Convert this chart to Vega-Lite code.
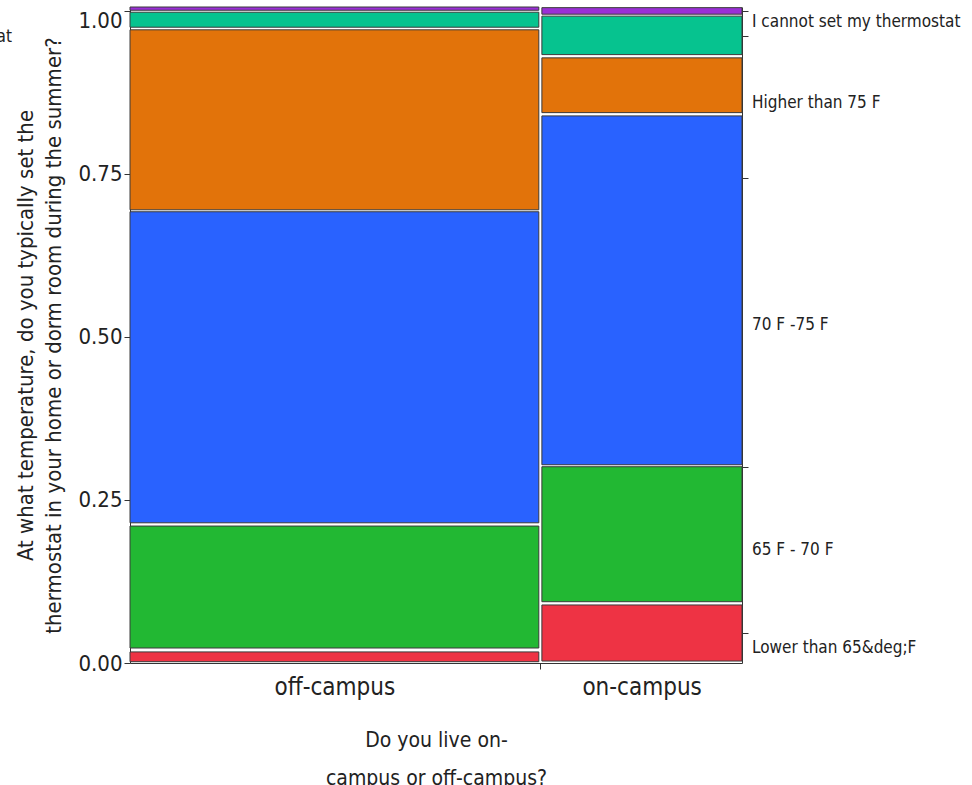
{
  "$schema": "https://vega.github.io/schema/vega-lite/v6.json",
  "width": 612,
  "height": 656,
  "autosize": "none",
  "padding": {"left": 130, "top": 7, "right": 230, "bottom": 122},
  "background": "white",
  "config": {
    "view": {"stroke": null},
    "font": "DejaVu Sans Condensed, Liberation Sans Narrow, sans-serif"
  },
  "layer": [
    {
      "data": {
        "values": [
          {"live": "off-campus", "temp": "Lower than 65&deg;F", "x0": 0, "x1": 0.668, "y0": 0.002, "y1": 0.017},
          {"live": "off-campus", "temp": "65 F - 70 F", "x0": 0, "x1": 0.668, "y0": 0.023, "y1": 0.210},
          {"live": "off-campus", "temp": "70 F -75 F", "x0": 0, "x1": 0.668, "y0": 0.215, "y1": 0.692},
          {"live": "off-campus", "temp": "Higher than 75 F", "x0": 0, "x1": 0.668, "y0": 0.695, "y1": 0.971},
          {"live": "off-campus", "temp": "I cannot set my thermostat", "x0": 0, "x1": 0.668, "y0": 0.975, "y1": 0.998},
          {"live": "off-campus", "temp": "Other", "x0": 0, "x1": 0.668, "y0": 1.001, "y1": 1.006},
          {"live": "on-campus", "temp": "Lower than 65&deg;F", "x0": 0.673, "x1": 1, "y0": 0.003, "y1": 0.089},
          {"live": "on-campus", "temp": "65 F - 70 F", "x0": 0.673, "x1": 1, "y0": 0.094, "y1": 0.301},
          {"live": "on-campus", "temp": "70 F -75 F", "x0": 0.673, "x1": 1, "y0": 0.304, "y1": 0.839},
          {"live": "on-campus", "temp": "Higher than 75 F", "x0": 0.673, "x1": 1, "y0": 0.844, "y1": 0.928},
          {"live": "on-campus", "temp": "I cannot set my thermostat", "x0": 0.673, "x1": 1, "y0": 0.933, "y1": 0.992},
          {"live": "on-campus", "temp": "Other", "x0": 0.673, "x1": 1, "y0": 0.995, "y1": 1.005}
        ]
      },
      "mark": {"type": "rect", "stroke": "#3a3a3a", "strokeWidth": 1},
      "encoding": {
        "x": {
          "field": "x0", "type": "quantitative",
          "scale": {"domain": [0, 1], "nice": false, "zero": false},
          "axis": {
            "values": [0.334, 0.67, 0.836],
            "labelExpr": "datum.value < 0.5 ? 'off-campus' : (datum.value > 0.8 ? 'on-campus' : '')",
            "grid": false,
            "domainColor": "#333",
            "tickColor": {"condition": {"test": "datum.value > 0.6 && datum.value < 0.7", "value": "#333"}, "value": "transparent"},
            "tickSize": 6,
            "labelFontSize": 24,
            "labelColor": "#222",
            "labelPadding": 6,
            "title": ["Do you live on-", "campus or off-campus?"],
            "titleFontSize": 21,
            "titleFontWeight": "normal",
            "titleColor": "#222",
            "titleLineHeight": 38,
            "titlePadding": 30
          }
        },
        "x2": {"field": "x1"},
        "y": {
          "field": "y0", "type": "quantitative",
          "scale": {"domain": [0, 1.006], "nice": false, "zero": false},
          "axis": {
            "values": [0, 0.25, 0.5, 0.75, 1],
            "format": ".2f",
            "grid": false,
            "domainColor": "#333",
            "tickColor": "#333",
            "tickSize": 6,
            "labelFontSize": 22,
            "labelColor": "#222",
            "labelPadding": 2,
            "labelBaseline": {"condition": {"test": "datum.value > 0.9", "value": "top"}, "value": "middle"},
            "title": ["At what temperature, do you typically set the", "thermostat in your home or dorm room during the summer?"],
            "titleFontSize": 22,
            "titleFontWeight": "normal",
            "titleColor": "#222",
            "titleLineHeight": 28,
            "titlePadding": 12
          }
        },
        "y2": {"field": "y1"},
        "color": {
          "field": "temp", "type": "nominal",
          "scale": {
            "domain": ["Lower than 65&deg;F", "65 F - 70 F", "70 F -75 F", "Higher than 75 F", "I cannot set my thermostat", "Other"],
            "range": ["#EE3344", "#22B833", "#2962FF", "#E2730A", "#06C38F", "#9A2FD6"]
          },
          "legend": null
        }
      }
    },
    {
      "data": {
        "values": [
          {"label": "I cannot set my thermostat", "pos": 0.983},
          {"label": "Higher than 75 F", "pos": 0.859},
          {"label": "70 F -75 F", "pos": 0.518},
          {"label": "65 F - 70 F", "pos": 0.173},
          {"label": "Lower than 65&deg;F", "pos": 0.023}
        ]
      },
      "mark": {"type": "text", "align": "left", "baseline": "middle", "dx": 10, "fontSize": 17, "color": "#222"},
      "encoding": {
        "x": {"datum": 1, "type": "quantitative"},
        "y": {
          "field": "pos", "type": "quantitative",
          "axis": {
            "orient": "right",
            "values": [1.0, 0.962, 0.744, 0.301, 0.046],
            "labels": false,
            "grid": false,
            "title": null,
            "domainColor": "#333",
            "tickColor": "#333",
            "tickSize": 6
          }
        },
        "text": {"field": "label"}
      }
    },
    {
      "data": {"values": [{"label": "I cannot set my thermostat", "pos": 0.96}]},
      "mark": {"type": "text", "align": "right", "baseline": "middle", "dx": -118, "fontSize": 17, "color": "#222"},
      "encoding": {
        "x": {"datum": 0, "type": "quantitative"},
        "y": {"field": "pos", "type": "quantitative", "axis": null},
        "text": {"field": "label"}
      }
    }
  ],
  "resolve": {"axis": {"y": "independent"}}
}
